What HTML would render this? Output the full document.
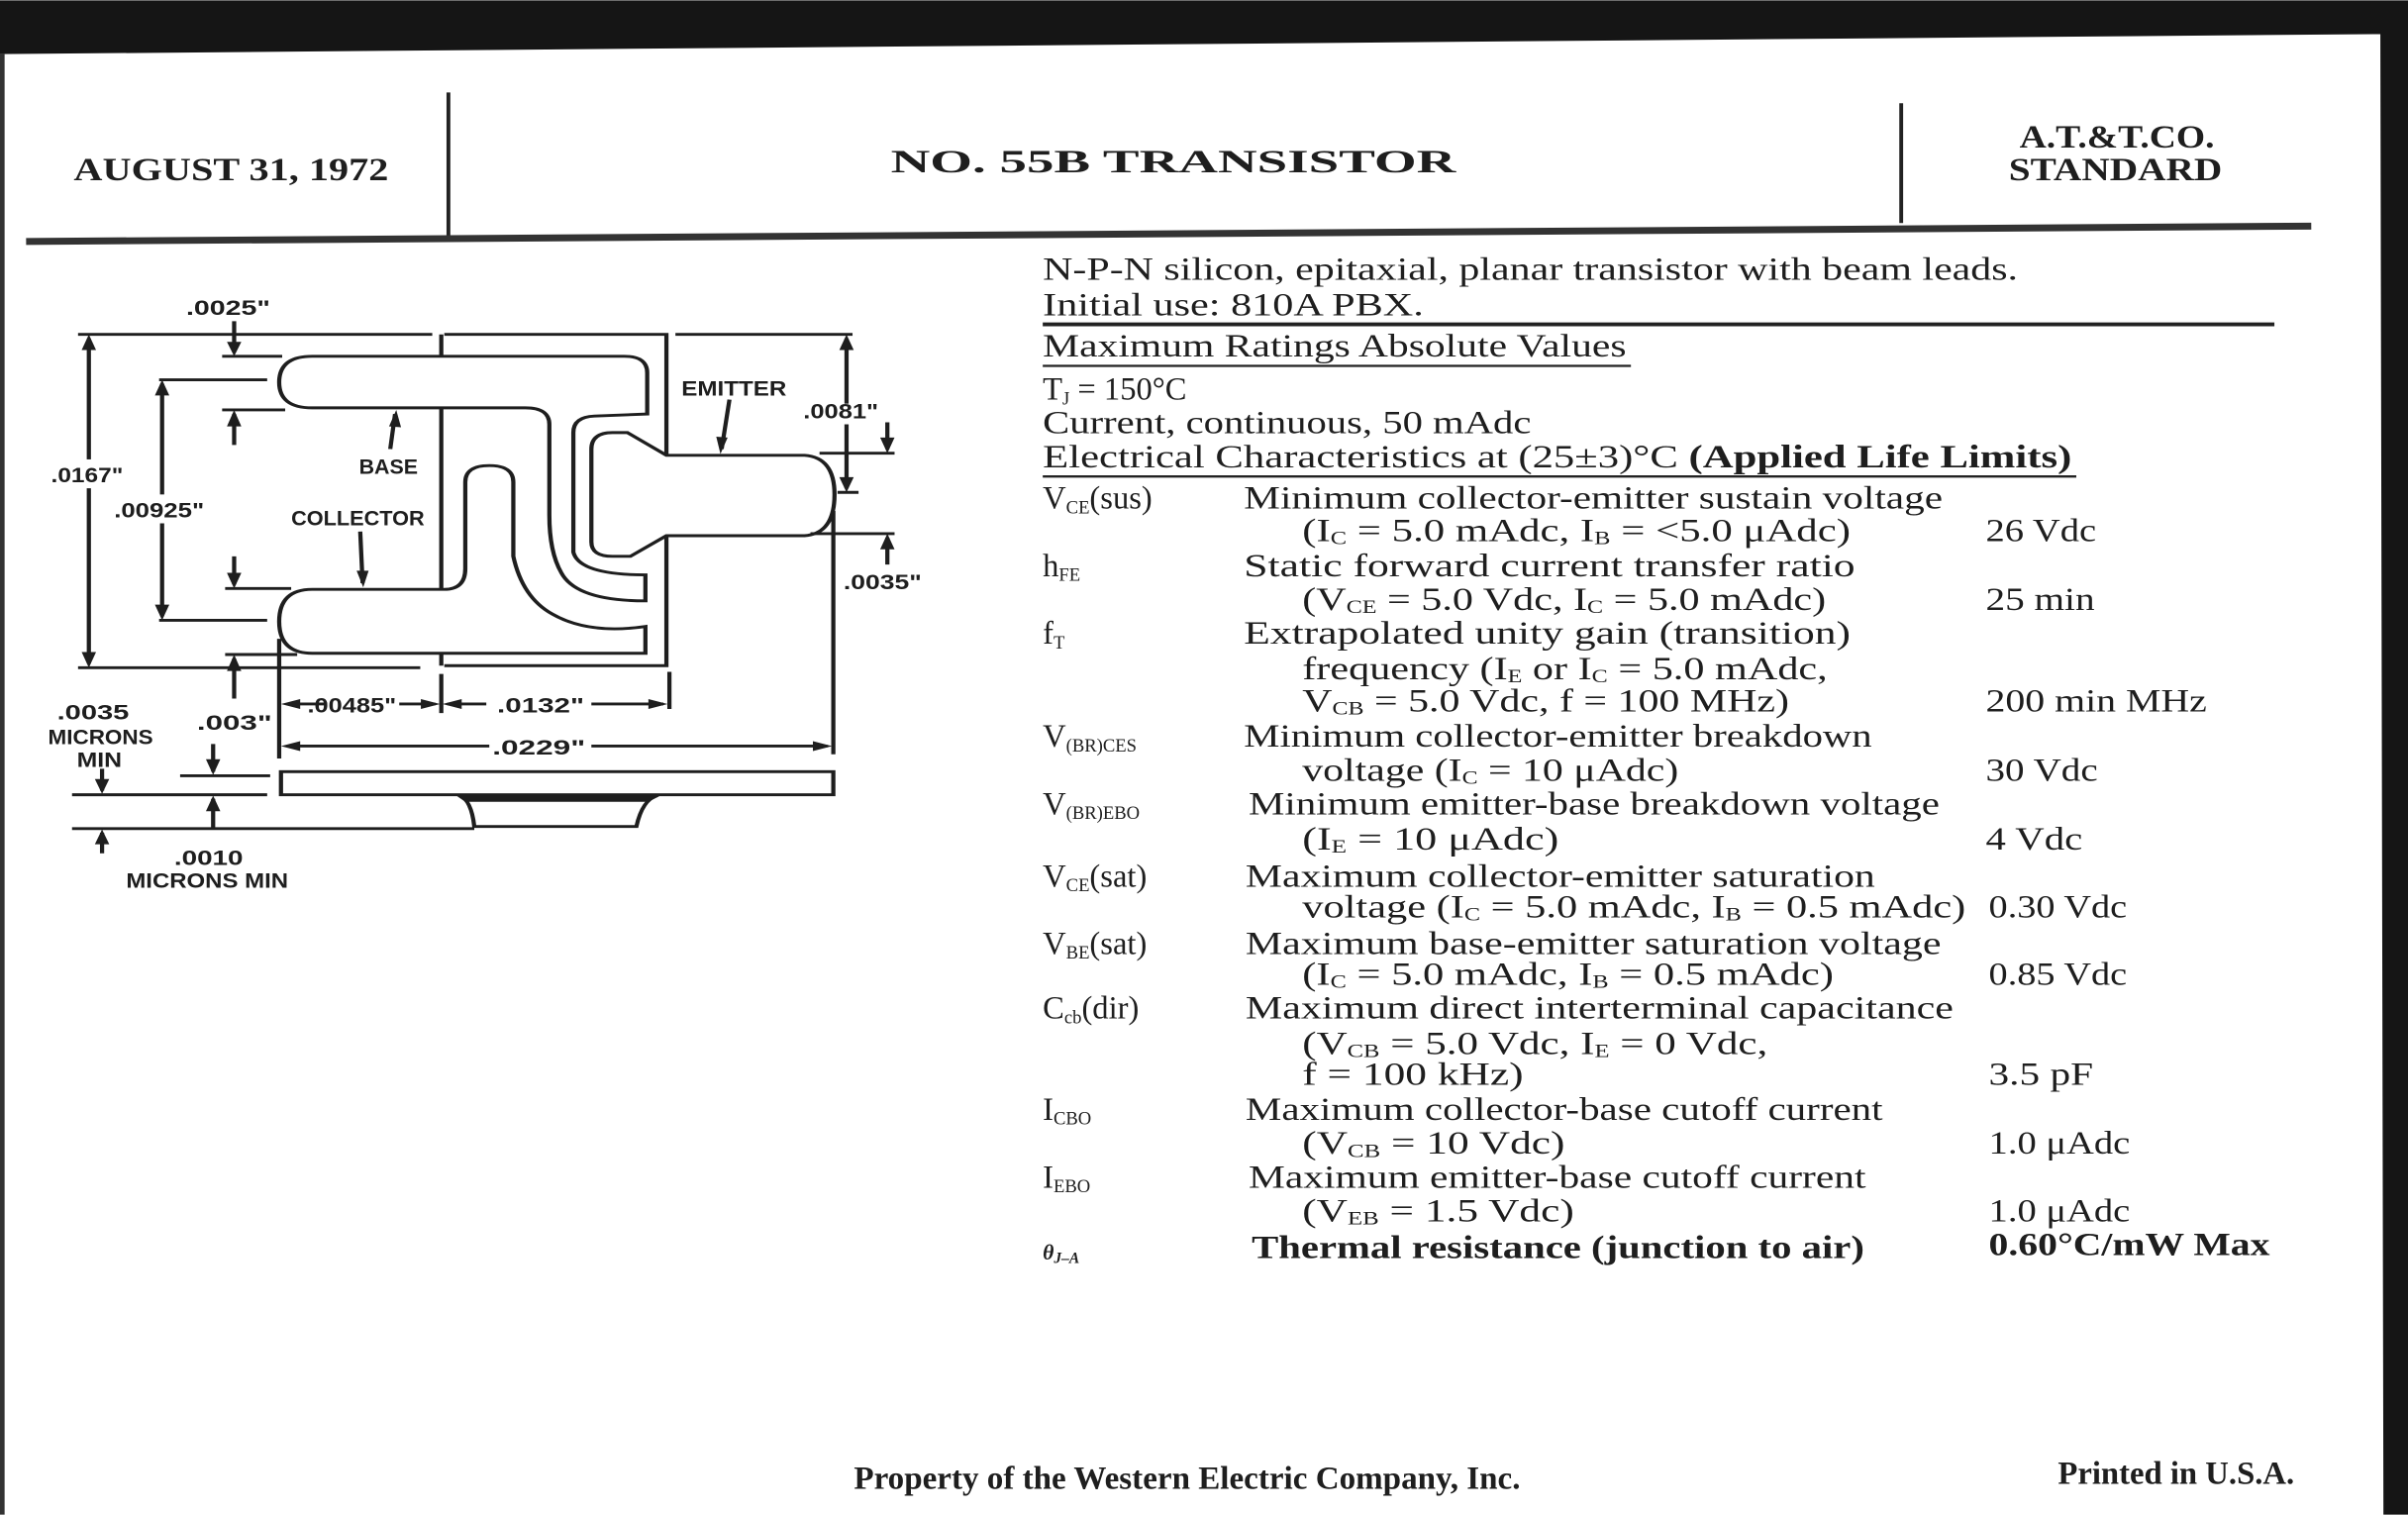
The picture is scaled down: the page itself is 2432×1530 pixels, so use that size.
<!DOCTYPE html>
<html><head><meta charset="utf-8"><style>
html,body{margin:0;padding:0;background:#fff;}
svg{display:block;}
.t{font-family:"Liberation Serif",serif;font-size:21px;fill:#1e1e1e;}
.s{font-size:12px;}
.d{font-family:"Liberation Sans",sans-serif;font-weight:bold;font-size:50px;fill:#1e1e1e;}
</style></head><body>
<svg width="2432" height="1530" viewBox="0 0 1568 986" xmlns="http://www.w3.org/2000/svg">
<rect width="1568" height="986" fill="#fff"/>
<polygon points="0,0 1568,0 1568,986 1552,986 1550,22 1545,22 0,35" fill="#151515"/>
<rect x="0" y="35" width="3" height="951" fill="#333"/>
<!-- header -->
<line x1="292" y1="60" x2="292" y2="155" stroke="#222" stroke-width="2.5"/>
<line x1="1238" y1="67" x2="1238" y2="145" stroke="#222" stroke-width="2.5"/>
<line x1="17" y1="157" x2="1505" y2="147" stroke="#333" stroke-width="4.5"/>
<text class="t" x="48" y="117" font-weight="bold" font-size="25" textLength="205" lengthAdjust="spacingAndGlyphs">AUGUST 31, 1972</text>
<text class="t" x="580" y="112" font-weight="bold" font-size="40" textLength="368" lengthAdjust="spacingAndGlyphs">NO. 55B TRANSISTOR</text>
<text class="t" x="1315" y="96" font-weight="bold" font-size="25" textLength="127" lengthAdjust="spacingAndGlyphs">A.T.&amp;T.CO.</text>
<text class="t" x="1308" y="117" font-weight="bold" font-size="25" textLength="139" lengthAdjust="spacingAndGlyphs">STANDARD</text>

<!-- right text -->
<text class="t" x="679" y="182" textLength="635" lengthAdjust="spacingAndGlyphs">N-P-N silicon, epitaxial, planar transistor with beam leads.</text>
<text class="t" x="679" y="205" textLength="248" lengthAdjust="spacingAndGlyphs">Initial use: 810A PBX.</text>
<line x1="679" y1="211" x2="1481" y2="211" stroke="#222" stroke-width="2.5"/>
<text class="t" x="679" y="232" textLength="380" lengthAdjust="spacingAndGlyphs">Maximum Ratings Absolute Values</text>
<line x1="679" y1="238" x2="1062" y2="238" stroke="#222" stroke-width="1.5"/>
<text class="t" x="679" y="260">T<tspan class="s" dy="3">J</tspan><tspan dy="-3"> = 150°C</tspan></text>
<text class="t" x="679" y="282" textLength="318" lengthAdjust="spacingAndGlyphs">Current, continuous, 50 mAdc</text>
<text class="t" x="679" y="304" textLength="670" lengthAdjust="spacingAndGlyphs">Electrical Characteristics at (25±3)°C <tspan font-weight="bold">(Applied Life Limits)</tspan></text>
<line x1="679" y1="310" x2="1352" y2="310" stroke="#222" stroke-width="1.5"/>

<g class="t">
<text x="679" y="331">V<tspan class="s" dy="3">CE</tspan><tspan dy="-3">(sus)</tspan></text>
<text x="810" y="331" textLength="455" lengthAdjust="spacingAndGlyphs">Minimum collector-emitter sustain voltage</text>
<text x="848" y="352" textLength="357" lengthAdjust="spacingAndGlyphs">(I<tspan class="s" dy="2">C</tspan><tspan dy="-2"> = 5.0 mAdc, I</tspan><tspan class="s" dy="2">B</tspan><tspan dy="-2"> = &lt;5.0 μAdc)</tspan></text>
<text x="1293" y="352" textLength="72" lengthAdjust="spacingAndGlyphs">26 Vdc</text>

<text x="679" y="375">h<tspan class="s" dy="3">FE</tspan></text>
<text x="810" y="375" textLength="398" lengthAdjust="spacingAndGlyphs">Static forward current transfer ratio</text>
<text x="848" y="397" textLength="341" lengthAdjust="spacingAndGlyphs">(V<tspan class="s" dy="2">CE</tspan><tspan dy="-2"> = 5.0 Vdc, I</tspan><tspan class="s" dy="2">C</tspan><tspan dy="-2"> = 5.0 mAdc)</tspan></text>
<text x="1293" y="397" textLength="71" lengthAdjust="spacingAndGlyphs">25 min</text>

<text x="679" y="419">f<tspan class="s" dy="3">T</tspan></text>
<text x="810" y="419" textLength="395" lengthAdjust="spacingAndGlyphs">Extrapolated unity gain (transition)</text>
<text x="848" y="442" textLength="342" lengthAdjust="spacingAndGlyphs">frequency (I<tspan class="s" dy="2">E</tspan><tspan dy="-2"> or I</tspan><tspan class="s" dy="2">C</tspan><tspan dy="-2"> = 5.0 mAdc,</tspan></text>
<text x="848" y="463" textLength="317" lengthAdjust="spacingAndGlyphs">V<tspan class="s" dy="2">CB</tspan><tspan dy="-2"> = 5.0 Vdc, f = 100 MHz)</tspan></text>
<text x="1293" y="463" textLength="144" lengthAdjust="spacingAndGlyphs">200 min MHz</text>

<text x="679" y="486">V<tspan class="s" dy="3">(BR)CES</tspan></text>
<text x="810" y="486" textLength="409" lengthAdjust="spacingAndGlyphs">Minimum collector-emitter breakdown</text>
<text x="848" y="508" textLength="245" lengthAdjust="spacingAndGlyphs">voltage (I<tspan class="s" dy="2">C</tspan><tspan dy="-2"> = 10 μAdc)</tspan></text>
<text x="1293" y="508" textLength="73" lengthAdjust="spacingAndGlyphs">30 Vdc</text>

<text x="679" y="530">V<tspan class="s" dy="3">(BR)EBO</tspan></text>
<text x="813" y="530" textLength="450" lengthAdjust="spacingAndGlyphs">Minimum emitter-base breakdown voltage</text>
<text x="848" y="553" textLength="167" lengthAdjust="spacingAndGlyphs">(I<tspan class="s" dy="2">E</tspan><tspan dy="-2"> = 10 μAdc)</tspan></text>
<text x="1293" y="553" textLength="63" lengthAdjust="spacingAndGlyphs">4 Vdc</text>

<text x="679" y="577">V<tspan class="s" dy="3">CE</tspan><tspan dy="-3">(sat)</tspan></text>
<text x="811" y="577" textLength="410" lengthAdjust="spacingAndGlyphs">Maximum collector-emitter saturation</text>
<text x="848" y="597" textLength="432" lengthAdjust="spacingAndGlyphs">voltage (I<tspan class="s" dy="2">C</tspan><tspan dy="-2"> = 5.0 mAdc, I</tspan><tspan class="s" dy="2">B</tspan><tspan dy="-2"> = 0.5 mAdc)</tspan></text>
<text x="1295" y="597" textLength="90" lengthAdjust="spacingAndGlyphs">0.30 Vdc</text>

<text x="679" y="621">V<tspan class="s" dy="3">BE</tspan><tspan dy="-3">(sat)</tspan></text>
<text x="811" y="621" textLength="453" lengthAdjust="spacingAndGlyphs">Maximum base-emitter saturation voltage</text>
<text x="848" y="641" textLength="346" lengthAdjust="spacingAndGlyphs">(I<tspan class="s" dy="2">C</tspan><tspan dy="-2"> = 5.0 mAdc, I</tspan><tspan class="s" dy="2">B</tspan><tspan dy="-2"> = 0.5 mAdc)</tspan></text>
<text x="1295" y="641" textLength="90" lengthAdjust="spacingAndGlyphs">0.85 Vdc</text>

<text x="679" y="663">C<tspan class="s" dy="3">cb</tspan><tspan dy="-3">(dir)</tspan></text>
<text x="811" y="663" textLength="461" lengthAdjust="spacingAndGlyphs">Maximum direct interterminal capacitance</text>
<text x="848" y="686" textLength="303" lengthAdjust="spacingAndGlyphs">(V<tspan class="s" dy="2">CB</tspan><tspan dy="-2"> = 5.0 Vdc, I</tspan><tspan class="s" dy="2">E</tspan><tspan dy="-2"> = 0 Vdc,</tspan></text>
<text x="848" y="706" textLength="144" lengthAdjust="spacingAndGlyphs">f = 100 kHz)</text>
<text x="1295" y="706" textLength="68" lengthAdjust="spacingAndGlyphs">3.5 pF</text>

<text x="679" y="729">I<tspan class="s" dy="3">CBO</tspan></text>
<text x="811" y="729" textLength="415" lengthAdjust="spacingAndGlyphs">Maximum collector-base cutoff current</text>
<text x="848" y="751" textLength="171" lengthAdjust="spacingAndGlyphs">(V<tspan class="s" dy="2">CB</tspan><tspan dy="-2"> = 10 Vdc)</tspan></text>
<text x="1295" y="751" textLength="92" lengthAdjust="spacingAndGlyphs">1.0 μAdc</text>

<text x="679" y="773">I<tspan class="s" dy="3">EBO</tspan></text>
<text x="813" y="773" textLength="402" lengthAdjust="spacingAndGlyphs">Maximum emitter-base cutoff current</text>
<text x="848" y="795" textLength="177" lengthAdjust="spacingAndGlyphs">(V<tspan class="s" dy="2">EB</tspan><tspan dy="-2"> = 1.5 Vdc)</tspan></text>
<text x="1295" y="795" textLength="92" lengthAdjust="spacingAndGlyphs">1.0 μAdc</text>

<text x="679" y="820" font-size="14" font-weight="bold" font-style="italic">θ<tspan font-size="10" dy="2">J–A</tspan></text>
<text x="815" y="819" font-weight="bold" textLength="399" lengthAdjust="spacingAndGlyphs">Thermal resistance (junction to air)</text>
<text x="1295" y="817" font-weight="bold" textLength="183" lengthAdjust="spacingAndGlyphs">0.60°C/mW Max</text>
</g>

<text class="t" x="556" y="969" font-size="17" font-weight="bold" textLength="434" lengthAdjust="spacingAndGlyphs">Property of the Western Electric Company, Inc.</text>
<text class="t" x="1340" y="966" font-size="17" font-weight="bold" textLength="154" lengthAdjust="spacingAndGlyphs">Printed in U.S.A.</text>

<!-- diagram -->
<svg x="0" y="174" width="613" height="419" viewBox="0 0 1568 1560" preserveAspectRatio="none">
<g fill="none" stroke="#1e1e1e" stroke-width="7">
<path d="M130,162 L720,162 M740,162 L1110,162 L1110,455 M1110,650 L1110,965 L740,965 M700,970 L130,970 M735,162 L735,780 M735,935 L735,965"/>
<path d="M520,215 L1040,215 Q1078,215 1078,255 L1078,355 L990,360 Q955,362 955,400 L955,690 Q965,745 1075,745 L1075,808 Q960,808 935,740 Q915,690 915,600 L915,380 Q915,340 875,340 L520,340 Q465,340 465,278 Q465,215 520,215 Z" fill="#fff"/>
<path d="M520,780 L740,780 Q775,780 775,730 L775,520 Q775,480 815,480 Q855,480 855,520 L855,700 Q870,800 920,840 Q980,890 1075,870 L1075,935 L520,935 Q465,935 465,858 Q465,780 520,780 Z" fill="#fff"/>
<path d="M1020,400 L1045,400 L1110,455 L1340,455 Q1390,460 1390,550 Q1390,645 1340,650 L1110,650 L1050,700 L1020,700 Q985,700 985,665 L985,440 Q985,400 1020,400 Z" fill="#fff"/>
<!-- dimension lines -->
<path d="M370,215 L470,215 M390,130 L390,205 M265,272 L445,272 M370,345 L475,345 M390,430 L390,355 M148,172 L148,960 M270,282 L270,845 M265,855 L445,855 M375,778 L485,778 M390,700 L390,768 M375,938 L495,938 M390,1045 L390,948"/>
<path d="M465,900 L465,1190 M735,985 L735,1080 M1115,980 L1115,1070 M1388,590 L1388,1180"/>
<path d="M480,1058 L545,1058 M665,1058 L725,1058 M745,1058 L810,1058 M985,1058 L1105,1058 M480,1160 L815,1160 M985,1160 L1378,1160"/>
<path d="M1125,162 L1420,162 M1410,172 L1410,535 M1395,545 L1430,545 M1365,450 L1490,450 M1478,375 L1478,440 M1350,645 L1490,645 M1478,720 L1478,655"/>
<path d="M1215,320 L1202,440 M650,440 L658,355 M600,640 L604,765"/>
<rect x="468" y="1222" width="920" height="56"/>
<path d="M300,1232 L450,1232 M120,1278 L445,1278 M120,1360 L790,1360 M355,1155 L355,1222 M170,1215 L170,1268 M355,1360 L355,1288 M170,1420 L170,1370"/>
<path d="M765,1280 Q785,1290 790,1355 L1060,1355 Q1070,1290 1095,1280" fill="#fff"/>
</g>
<g fill="#fff">
<rect x="80" y="465" width="130" height="70"/>
<rect x="185" y="550" width="160" height="70"/>
<rect x="1333" y="330" width="135" height="50"/>
</g>
<g fill="#1e1e1e">
<path d="M760,1280 L1100,1280 L1080,1295 L775,1295 Z"/>
<polygon points="378,180 402,180 390,215"/>
<polygon points="378,385 402,385 390,345"/>
<polygon points="136,200 160,200 148,162"/>
<polygon points="136,932 160,932 148,970"/>
<polygon points="258,310 282,310 270,272"/>
<polygon points="258,817 282,817 270,855"/>
<polygon points="378,740 402,740 390,778"/>
<polygon points="378,978 402,978 390,938"/>
<polygon points="468,1058 500,1046 500,1070"/>
<polygon points="733,1058 701,1046 701,1070"/>
<polygon points="737,1058 769,1046 769,1070"/>
<polygon points="1112,1058 1080,1046 1080,1070"/>
<polygon points="468,1160 500,1148 500,1172"/>
<polygon points="1386,1160 1354,1148 1354,1172"/>
<polygon points="1398,200 1422,200 1410,162"/>
<polygon points="1398,508 1422,508 1410,545"/>
<polygon points="1466,412 1490,412 1478,450"/>
<polygon points="1466,683 1490,683 1478,645"/>
<polygon points="1193,410 1212,412 1200,452"/>
<polygon points="648,385 668,387 660,345"/>
<polygon points="594,735 614,735 605,775"/>
<polygon points="343,1192 367,1192 355,1230"/>
<polygon points="158,1240 182,1240 170,1276"/>
<polygon points="343,1318 367,1318 355,1280"/>
<polygon points="158,1398 182,1398 170,1362"/>
</g>
<g class="d">
<text x="310" y="115" textLength="140" lengthAdjust="spacingAndGlyphs">.0025"</text>
<text x="85" y="520" textLength="120" lengthAdjust="spacingAndGlyphs">.0167"</text>
<text x="190" y="605" textLength="150" lengthAdjust="spacingAndGlyphs">.00925"</text>
<text x="598" y="500" textLength="98" lengthAdjust="spacingAndGlyphs">BASE</text>
<text x="485" y="625" textLength="222" lengthAdjust="spacingAndGlyphs">COLLECTOR</text>
<text x="1135" y="310" textLength="175" lengthAdjust="spacingAndGlyphs">EMITTER</text>
<text x="1338" y="365" textLength="125" lengthAdjust="spacingAndGlyphs">.0081"</text>
<text x="1405" y="780" textLength="130" lengthAdjust="spacingAndGlyphs">.0035"</text>
<text x="512" y="1078" textLength="148" lengthAdjust="spacingAndGlyphs">.00485"</text>
<text x="828" y="1078" textLength="145" lengthAdjust="spacingAndGlyphs">.0132"</text>
<text x="820" y="1180" textLength="155" lengthAdjust="spacingAndGlyphs">.0229"</text>
<text x="328" y="1120" textLength="125" lengthAdjust="spacingAndGlyphs">.003"</text>
<text x="95" y="1095" textLength="120" lengthAdjust="spacingAndGlyphs">.0035</text>
<text x="80" y="1155" textLength="175" lengthAdjust="spacingAndGlyphs">MICRONS</text>
<text x="128" y="1210" textLength="75" lengthAdjust="spacingAndGlyphs">MIN</text>
<text x="290" y="1448" textLength="115" lengthAdjust="spacingAndGlyphs">.0010</text>
<text x="210" y="1503" textLength="270" lengthAdjust="spacingAndGlyphs">MICRONS MIN</text>
</g>
</svg>
</svg>
</body></html>
